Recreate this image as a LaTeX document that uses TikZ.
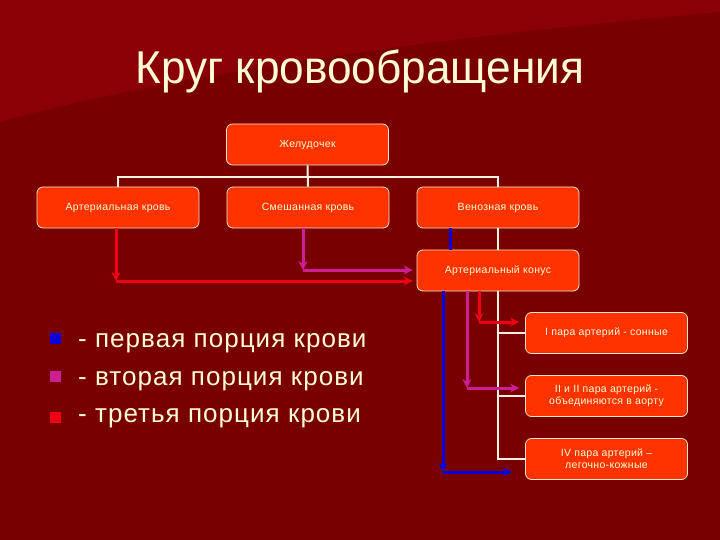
\documentclass[tikz,border=0pt]{standalone}
\usepackage{fontspec}
\setmainfont{Liberation Sans}
\usetikzlibrary{arrows.meta}
\definecolor{bg}{RGB}{120,0,0}
\definecolor{bglight}{RGB}{138,0,4}
\definecolor{boxfill}{RGB}{255,51,0}
\definecolor{boxline}{RGB}{255,228,200}
\definecolor{txt}{RGB}{255,252,215}
\definecolor{aRed}{RGB}{240,0,20}
\definecolor{aMag}{RGB}{205,30,150}
\definecolor{aBlue}{RGB}{10,0,220}
\definecolor{wline}{RGB}{255,240,225}
\begin{document}
\begin{tikzpicture}[x=1pt,y=-1pt,
  box/.style={draw=boxline, line width=0.8pt, fill=boxfill, rounded corners=6pt,
    minimum width=162pt, minimum height=41pt, text=txt,
    font=\fontsize{10.5}{12}\selectfont\addfontfeatures{LetterSpace=3}, align=center, inner sep=2pt},
  tree/.style={draw=wline, line width=2pt},
  flow/.style={line width=3pt, -{Stealth[length=9pt,width=9pt]}},
  legsq/.style={minimum size=11pt, inner sep=0pt},
  legtxt/.style={anchor=base west, text=txt, font=\fontsize{26}{30}\selectfont\addfontfeatures{LetterSpace=4}, inner sep=0pt}
 ]
\fill[bg] (0,0) rectangle (720,540);
\fill[bglight] (0,0) -- (720,0) -- (720,12) .. controls (400,40) and (150,80) .. (0,122) -- cycle;
\useasboundingbox (0,0) rectangle (720,540);

\node[text=txt, font=\fontsize{46}{50}\selectfont, anchor=base, inner sep=0pt, xscale=0.96] (title) at (360,84) {Круг кровообращения};

\node[box] (zh)  at (307.5,144.5) {Желудочек};
\node[box] (art) at (118,207.5) {Артериальная кровь};
\node[box] (mix) at (308,207.5) {Смешанная кровь};
\node[box] (ven) at (498,207.5) {Венозная кровь};
\node[box] (kon) at (498,270.5) {Артериальный конус};
\node[box] (p1)  at (606.5,333) {I пара артерий - сонные};
\node[box] (p2)  at (606.5,396) {II и II пара артерий -\\объединяются в аорту};
\node[box] (p4)  at (606.5,459) {IV пара артерий --\\легочно-кожные};

% tree
\draw[tree] (art.north) -- ++(0,-10) -| (ven.north);
\draw[tree] (zh.south) -- (mix.north);
\draw[tree] (ven.south) -- (kon.north);
\draw[tree] (kon.south) -- (kon.south |- p4.west) -- (p4.west);
\draw[tree] (kon.south |- p1.west) -- (p1.west);
\draw[tree] (kon.south |- p2.west) -- (p2.west);

% coordinates of arrow corners
\coordinate (rc) at (116,281);
\coordinate (mc) at (303,270);
\coordinate (bx) at (450,0);
\coordinate (bc) at (443,472);
\coordinate (be) at (512,472);
\coordinate (mc2) at (467,388);
\coordinate (rc2) at (479,322);

% upper arrows
\draw[flow, aRed] (art.south -| rc) -- (rc);
\draw[flow, aRed, shorten >=4pt] (rc) -- (rc -| kon.west);
\draw[flow, aMag] (mix.south -| mc) -- (mc);
\draw[flow, aMag, shorten >=4pt] (mc) -- (mc -| kon.west);
\draw[aBlue, line width=3pt] (ven.south -| bx) -- (kon.north -| bx);

% lower arrows
\draw[flow, aBlue] (kon.south -| bc) -- (bc);
\draw[flow, aBlue] (bc) -- (be);
\draw[flow, aMag] (kon.south -| mc2) -- (mc2);
\draw[flow, aMag, shorten >=6pt] (mc2) -- (mc2 -| p2.west);
\draw[flow, aRed] (kon.south -| rc2) -- (rc2);
\draw[flow, aRed, shorten >=6pt] (rc2) -- (rc2 -| p1.west);

% legend
\node[legsq, fill=aBlue] (s1) at (55.5,338.5) {};
\node[legsq, fill=aMag] (s2) at (55.5,376) {};
\node[legsq, fill=aRed] (s3) at (55.5,417) {};
\node[legtxt] (l1) at (78,347) {- первая порция крови};
\node[legtxt] (l2) at (78,385) {- вторая порция крови};
\node[legtxt] (l3) at (78,422) {- третья порция крови};
\end{tikzpicture}
\end{document}
